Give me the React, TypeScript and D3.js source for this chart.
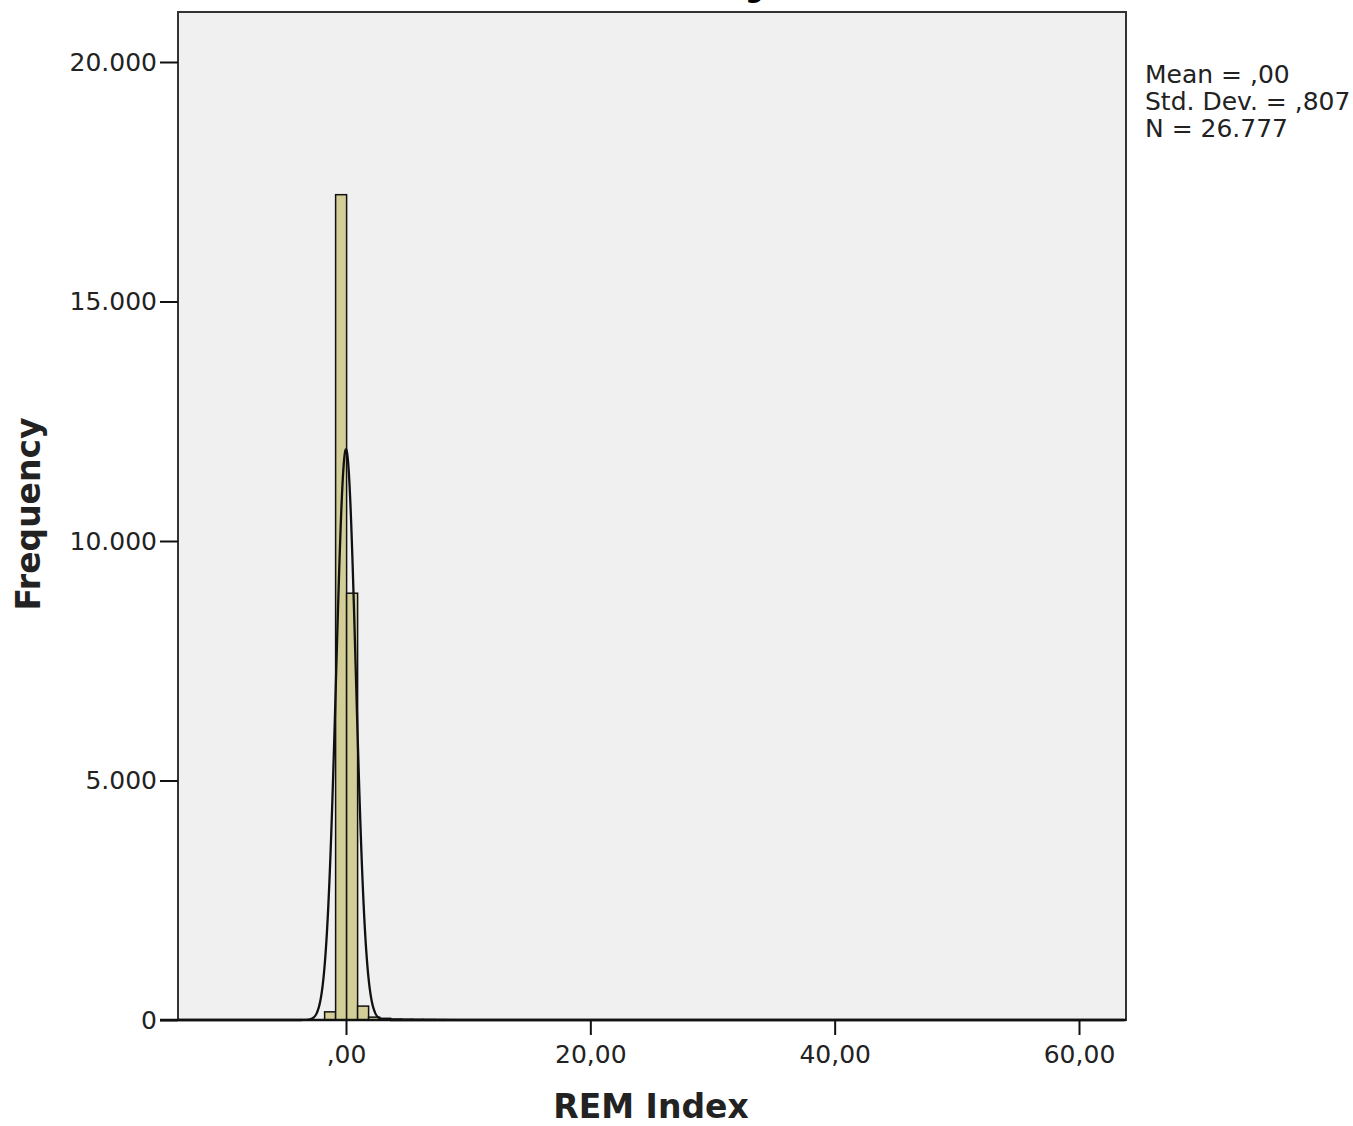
import React, { useEffect, useRef } from "react";
import * as d3 from "d3";

// histogram bins (left edge) and counts
const binStarts = [-1.75, -0.85, 0.05, 0.95, 1.85, 2.75, 3.65, 4.55, 5.45, 6.35, 7.25, 8.15, 9.05, 9.95, 10.85];
const binCounts = [170, 17230, 8910, 290, 60, 35, 20, 15, 12, 10, 8, 6, 5, 4, 2];
const binWidth = 0.9;

const yTicks = [0, 5000, 10000, 15000, 20000];
const xTicks = [0, 20, 40, 60];

const statLines = ["Mean = ,00", "Std. Dev. = ,807", "N = 26.777"];
const mean = 0;
const stdDev = 0.807;
const total = 26777;

const fmtY = (v: number) => (v === 0 ? "0" : d3.format(",")(v).replace(/,/g, "."));
const fmtX = (v: number) => (v === 0 ? ",00" : v.toFixed(2).replace(".", ","));

const App = () => {
  const ref = useRef<SVGSVGElement>(null);

  useEffect(() => {
    const svg = d3.select(ref.current);
    svg.selectAll("*").remove();

    const left = 178;
    const right = 1126;
    const top = 12;
    const bottom = 1020;

    const x = d3.scaleLinear().domain([0, 60]).range([346, 1079]);
    const y = d3.scaleLinear().domain([0, 20000]).range([bottom, 62]);

    // plot background
    svg
      .append("rect")
      .attr("x", left)
      .attr("y", top)
      .attr("width", right - left)
      .attr("height", bottom - top)
      .attr("fill", "#f0f0f0");

    // Title (only its descender shows at the top edge)
    svg
      .append("text")
      .attr("x", 745)
      .attr("y", -3)
      .attr("text-anchor", "middle")
      .attr("font-family", "DejaVu Sans")
      .attr("font-weight", "bold")
      .attr("font-size", 26)
      .text("Histogram");

    // Bars
    const bins = binStarts.map((s, i) => ({ x0: s, x1: s + binWidth, n: binCounts[i] }));
    svg
      .selectAll(".bar")
      .data(bins)
      .enter()
      .append("rect")
      .attr("class", "bar")
      .attr("x", (d) => x(d.x0))
      .attr("y", (d) => y(d.n))
      .attr("width", (d) => x(d.x1) - x(d.x0))
      .attr("height", (d) => bottom - y(d.n))
      .attr("fill", "#d3ce97")
      .attr("stroke", "#111")
      .attr("stroke-width", 1.5);

    // Normal curve from mean / std. dev.
    const pts = d3.range(-13.7, 63.7, 0.02).map((v) => {
      const z = (v - mean) / stdDev;
      const f = (total * binWidth) / (stdDev * Math.sqrt(2 * Math.PI)) * Math.exp(-0.5 * z * z);
      return [v, f] as [number, number];
    });
    svg
      .append("path")
      .datum(pts)
      .attr("fill", "none")
      .attr("stroke", "#111")
      .attr("stroke-width", 2.3)
      .attr(
        "d",
        d3
          .line<[number, number]>()
          .x((d) => x(d[0]))
          .y((d) => y(d[1]))
      );

    // frame
    svg
      .append("rect")
      .attr("x", left)
      .attr("y", top)
      .attr("width", right - left)
      .attr("height", bottom - top)
      .attr("fill", "none")
      .attr("stroke", "#333")
      .attr("stroke-width", 2);

    // Y axis
    const yAxis = svg
      .append("g")
      .attr("transform", `translate(${left},0)`)
      .call(d3.axisLeft(y).tickValues(yTicks).tickFormat((d) => fmtY(+d)).tickSize(18).tickPadding(3));
    yAxis.select(".domain").remove();

    // X axis
    const xAxis = svg
      .append("g")
      .attr("transform", `translate(0,${bottom})`)
      .call(d3.axisBottom(x).tickValues(xTicks).tickFormat((d) => fmtX(+d)).tickSize(15).tickPadding(10));
    xAxis.select(".domain").remove();

    svg
      .append("line")
      .attr("x1", 160)
      .attr("x2", right)
      .attr("y1", bottom)
      .attr("y2", bottom)
      .attr("stroke", "#111")
      .attr("stroke-width", 2.5);

    svg
      .selectAll(".tick line")
      .attr("stroke", "#111")
      .attr("stroke-width", 2);
    svg
      .selectAll(".tick text")
      .attr("font-family", "DejaVu Sans")
      .attr("font-size", 25)
      .attr("fill", "#222");

    // axis titles
    svg
      .append("text")
      .attr("transform", `translate(40,514) rotate(-90)`)
      .attr("text-anchor", "middle")
      .attr("font-family", "DejaVu Sans")
      .attr("font-weight", "bold")
      .attr("font-size", 33)
      .attr("fill", "#222")
      .text("Frequency");

    svg
      .append("text")
      .attr("x", 651)
      .attr("y", 1118)
      .attr("text-anchor", "middle")
      .attr("font-family", "DejaVu Sans")
      .attr("font-weight", "bold")
      .attr("font-size", 33)
      .attr("fill", "#222")
      .text("REM Index");

    // stats box
    svg
      .selectAll(".stat")
      .data(statLines)
      .enter()
      .append("text")
      .attr("class", "stat")
      .attr("x", 1145)
      .attr("y", (d, i) => 83 + i * 27)
      .attr("font-family", "DejaVu Sans")
      .attr("font-size", 25)
      .attr("fill", "#222")
      .text((d) => d);
  }, []);

  return (
    <svg
      ref={ref}
      width={1353}
      height={1126}
      style={{ position: "absolute", left: 0, top: 0, background: "#fff" }}
    />
  );
};

export default App;
